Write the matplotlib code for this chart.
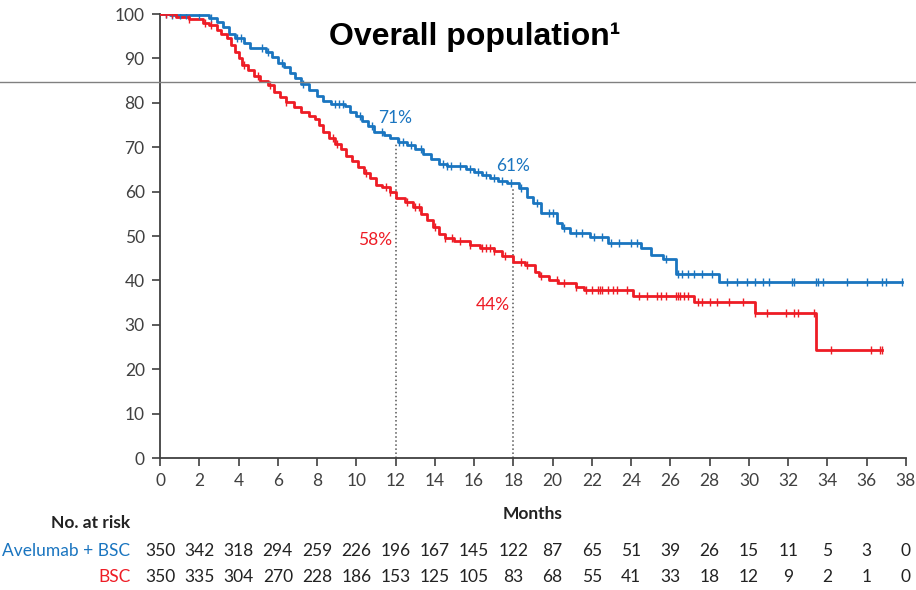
import numpy as np
import matplotlib.pyplot as plt
from matplotlib.lines import Line2D

# Kaplan-Meier step points (months, % alive)
ave_t = [0, 0.5, 2.5, 2.9, 3.2, 3.5, 3.8, 4.3, 4.6, 5.4, 5.7, 6.0, 6.3, 6.6,
         6.9, 7.2, 7.6, 8.0, 8.3, 8.7, 9.4, 9.7, 10.0, 10.3, 10.6, 10.9,
         11.4, 11.7, 12.1, 12.6, 13.0, 13.4, 13.8, 14.2, 14.6, 15.6, 16.0,
         16.4, 16.8, 17.2, 17.7, 18.3, 18.7, 19.0, 19.4, 20.2, 20.5, 20.9,
         21.9, 22.8, 24.5, 25.0, 25.6, 26.3, 28.5, 37.8]
ave_s = [100, 99.7, 99.1, 98.3, 97.0, 95.5, 94.6, 93.5, 92.3, 91.4, 90.3,
         89.0, 88.0, 86.8, 85.5, 84.3, 83.0, 81.5, 80.5, 79.8, 79.2, 78.0,
         77.0, 76.0, 74.8, 73.5, 72.8, 72.0, 71.2, 70.5, 69.5, 68.5, 67.3,
         66.3, 65.8, 65.2, 64.4, 63.8, 63.1, 62.5, 61.9, 60.8, 58.8, 57.4,
         55.2, 52.9, 51.7, 50.7, 49.8, 48.4, 47.3, 45.7, 44.8, 41.4, 39.6,
         39.6]
ave_cens = [0.3, 0.6, 1.0, 1.3, 2.0, 2.6, 3.9, 4.1, 5.2, 5.5, 6.2, 7.3, 8.9,
            9.1, 9.3, 10.2, 10.8, 11.3, 12.2, 12.4, 12.8, 13.3, 14.4, 14.6,
            14.8, 15.3, 15.8, 16.2, 16.6, 17.0, 17.4, 17.9, 18.4, 19.2, 19.8,
            20.0, 20.6, 21.2, 21.5, 22.1, 22.5, 23.0, 23.4, 24.0, 24.3, 25.8,
            26.4, 26.6, 26.9, 27.2, 27.6, 28.1, 28.9, 29.4, 29.9, 30.3, 30.7,
            31.0, 32.2, 32.3, 33.4, 33.5, 33.8, 35.0, 36.0, 36.8, 37.0, 37.8]

bsc_t = [0, 0.8, 1.5, 2.2, 2.5, 2.9, 3.1, 3.4, 3.6, 3.8, 4.0, 4.2, 4.5, 4.8,
         5.1, 5.5, 5.8, 6.1, 6.4, 6.8, 7.2, 7.6, 7.9, 8.1, 8.3, 8.6, 8.9,
         9.2, 9.5, 9.8, 10.1, 10.4, 10.7, 11.0, 11.3, 11.7, 12.0, 12.5, 12.9,
         13.3, 13.6, 13.9, 14.2, 14.5, 15.0, 15.8, 16.3, 17.0, 17.4, 18.0,
         18.6, 19.1, 19.3, 19.8, 20.3, 21.2, 21.6, 24.1, 27.2, 30.3, 33.4,
         36.8]
bsc_s = [100, 99.4, 98.8, 98.0, 97.5, 96.5, 95.5, 94.5, 93.0, 91.5, 90.0,
         88.5, 87.5, 86.0, 85.0, 84.0, 82.5, 81.3, 80.2, 79.0, 78.0, 77.0,
         76.3, 75.0, 73.5, 72.0, 70.8, 69.5, 68.0, 66.8, 65.5, 64.2, 63.0,
         61.5, 61.0, 60.0, 58.5, 57.6, 56.6, 55.0, 53.5, 52.0, 50.5, 49.6,
         48.8, 48.0, 47.2, 46.6, 45.5, 44.2, 43.5, 42.0, 40.9, 40.2, 39.4,
         38.6, 37.8, 36.6, 35.1, 32.6, 24.3, 24.3]
bsc_cens = [0.3, 0.6, 1.5, 2.3, 2.6, 4.3, 5.0, 5.6, 6.4, 8.8, 9.0, 10.5, 11.5,
            11.7, 12.6, 13.0, 13.2, 14.0, 14.5, 14.9, 15.3, 15.8, 16.4, 16.6,
            16.8, 17.0, 17.6, 18.4, 18.7, 19.4, 20.2, 20.6, 21.2, 21.7, 22.0,
            22.3, 22.4, 22.5, 22.8, 23.1, 23.3, 23.8, 24.4, 24.8, 25.3, 25.5,
            25.8, 26.3, 26.4, 26.5, 26.7, 26.9, 27.4, 27.6, 28.0, 28.4, 29.0,
            29.7, 30.3, 30.9, 31.9, 32.3, 32.5, 33.3, 34.2, 36.2, 36.7, 36.8]

# Landmarks
land_t = [12, 18]
land_ave = [71, 61]
land_bsc = [58, 44]

# Number at risk
risk_t = list(range(0, 39, 2))
risk_ave = [350, 342, 318, 294, 259, 226, 196, 167, 145, 122, 87, 65, 51, 39,
            26, 15, 11, 5, 3, 0]
risk_bsc = [350, 335, 304, 270, 228, 186, 153, 125, 105, 83, 68, 55, 41, 33,
            18, 12, 9, 2, 1, 0]

blue = '#1a75c0'
red = '#ee1c25'
grey = '#404040'
narrow = ['Lato', 'DejaVu Sans']
fs = 12.5


def step_value(t_list, s_list, x):
    """ survival value of the step curve at time x """
    idx = np.searchsorted(t_list, x, side='right') - 1
    return np.array(s_list)[idx]


fig = plt.figure(figsize=(9.16, 5.9), dpi=100)
ax = fig.add_axes([0.1747, 0.2237, 0.8143, 0.7525])

# Curves
ax.step(ave_t, ave_s, where='post', color=blue, lw=2.0, zorder=3)
ax.step(bsc_t, bsc_s, where='post', color=red, lw=2.0, zorder=3)
ax.plot(ave_cens, step_value(ave_t, ave_s, ave_cens), '|', color=blue,
        ms=6, mew=1.0, zorder=4)
ax.plot(bsc_cens, step_value(bsc_t, bsc_s, bsc_cens), '|', color=red,
        ms=6, mew=1.0, zorder=4)

# Landmark dotted lines and labels
for t, a in zip(land_t, land_ave):
    ax.plot([t, t], [0, a], ls=':', color='#555555', lw=1.1, zorder=2)
ax.text(12.0, 76.5, f'{land_ave[0]}%', color=blue, ha='center', va='center',
        fontsize=fs, family=narrow)
ax.text(18.0, 65.8, f'{land_ave[1]}%', color=blue, ha='center', va='center',
        fontsize=fs, family=narrow)
ax.text(11.8, 49.0, f'{land_bsc[0]}%', color=red, ha='right', va='center',
        fontsize=fs, family=narrow)
ax.text(17.8, 34.5, f'{land_bsc[1]}%', color=red, ha='right', va='center',
        fontsize=fs, family=narrow)

# Axes styling
ax.set_xlim(0, 38)
ax.set_ylim(0, 100)
ax.set_xticks(risk_t)
ax.set_yticks(range(0, 101, 10))
for side in ['top', 'right']:
    ax.spines[side].set_visible(False)
for side in ['left', 'bottom']:
    ax.spines[side].set_color(grey)
    ax.spines[side].set_linewidth(1.3)
ax.tick_params(colors=grey, length=6, width=1.2, labelsize=fs, pad=5)
for lab in ax.get_xticklabels() + ax.get_yticklabels():
    lab.set_family(narrow)

trans = ax.get_xaxis_transform()
ax.text(19, -0.126, 'Months', transform=trans, ha='center', va='center',
        fontsize=fs, fontweight='bold', color='#222222', family=narrow)

# Number at risk table
ax.text(-1.5, -0.146, 'No. at risk', transform=trans, ha='right',
        va='center', fontsize=fs, fontweight='bold', color='#222222',
        family=narrow)
ax.text(-1.5, -0.209, 'Avelumab + BSC', transform=trans, ha='right',
        va='center', fontsize=fs, color=blue, family=narrow)
ax.text(-1.5, -0.268, 'BSC', transform=trans, ha='right', va='center',
        fontsize=fs, color=red, family=narrow)
for t, a, b in zip(risk_t, risk_ave, risk_bsc):
    ax.text(t, -0.209, str(a), transform=trans, ha='center', va='center',
            fontsize=fs, color='#222222', family=narrow)
    ax.text(t, -0.268, str(b), transform=trans, ha='center', va='center',
            fontsize=fs, color='#222222', family=narrow)

# Title and horizontal rule across the figure
fig.text(0.518, 0.937, 'Overall population\u00b9', ha='center', va='center',
         fontsize=23, fontweight='bold', family=['Liberation Sans',
                                                 'DejaVu Sans'])
fig.add_artist(Line2D([0, 1], [0.861, 0.861], color='#808080', lw=1.0,
                      transform=fig.transFigure))

fig.savefig('out.png', dpi=100)
